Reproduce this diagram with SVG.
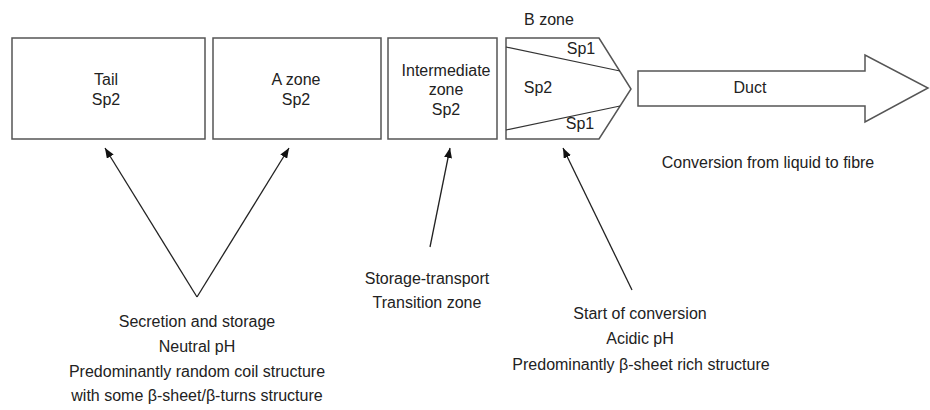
<svg xmlns="http://www.w3.org/2000/svg" width="930" height="410" viewBox="0 0 930 410">
<defs>
<marker id="ah" markerWidth="10" markerHeight="8" refX="10" refY="4" orient="auto" markerUnits="userSpaceOnUse">
<path d="M0,0 L10,4 L0,8 z" fill="#111"/>
</marker>
<style>
.box{fill:#fff;stroke:#555;stroke-width:1.5}
.ln{fill:none;stroke:#333;stroke-width:1.2}
.con{fill:none;stroke:#222;stroke-width:1.3;marker-end:url(#ah)}
text{font-family:"Liberation Sans",Arial,sans-serif;font-size:16px;fill:#222;text-anchor:middle}
</style>
</defs>
<rect width="930" height="410" fill="#fff"/>
<g id="tail">
<rect class="box" x="12" y="38" width="193" height="101"/>
<text x="106" y="85">Tail</text>
<text x="106" y="105">Sp2</text>
</g>
<g id="azone">
<rect class="box" x="213" y="38" width="168" height="101"/>
<text x="296" y="85">A zone</text>
<text x="296" y="105">Sp2</text>
</g>
<g id="intermediate">
<rect class="box" x="388" y="38" width="109" height="101"/>
<text x="446" y="76">Intermediate</text>
<text x="446" y="95">zone</text>
<text x="446" y="115">Sp2</text>
</g>
<g id="bzone">
<text x="549" y="25">B zone</text>
<path class="box" d="M506,38 L599,38 L631,89 L599,139 L506,139 Z"/>
<path class="ln" d="M506,47 L620,71 M506,130 L620,106"/>
<text x="581" y="54">Sp1</text>
<text x="538" y="93">Sp2</text>
<text x="580" y="129">Sp1</text>
</g>
<g id="duct">
<path class="box" d="M638,71 L865,71 L865,55 L928,88 L865,122 L865,106 L638,106 Z"/>
<text x="750" y="93">Duct</text>
<text x="768" y="168">Conversion from liquid to fibre</text>
</g>
<g id="connectors">
<path class="con" d="M197,297 L105,148"/>
<path class="con" d="M197,297 L289,148"/>
<path class="con" d="M430,247 L450,148"/>
<path class="con" d="M632,290 L563,148"/>
</g>
<g id="label-secretion">
<text x="197" y="327">Secretion and storage</text>
<text x="197" y="352">Neutral pH</text>
<text x="197" y="377">Predominantly random coil structure</text>
<text x="197" y="401">with some β-sheet/β-turns structure</text>
</g>
<g id="label-transition">
<text x="427" y="284">Storage-transport</text>
<text x="427" y="308">Transition zone</text>
</g>
<g id="label-conversion">
<text x="640" y="319">Start of conversion</text>
<text x="640" y="344">Acidic pH</text>
<text x="641" y="370">Predominantly β-sheet rich structure</text>
</g>
</svg>
